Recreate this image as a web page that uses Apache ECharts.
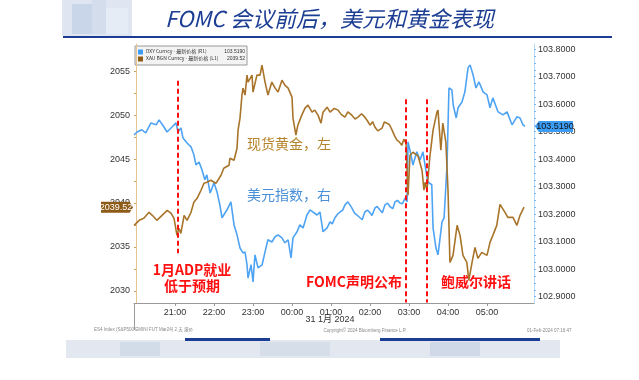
<!DOCTYPE html>
<html><head><meta charset="utf-8">
<script src="https://cdn.jsdelivr.net/npm/echarts@6/dist/echarts.min.js"></script>
<style>html,body{margin:0;padding:0;background:#fff}#c{width:639px;height:380px}</style>
</head><body><div id="c"></div>
<script>
// time in minutes since 20:00 (31 Jan 2024, Beijing)
const goldTime = [-3,5,12,20,25,32,40,48,54,58.5,63,66,69,74,78.5,84.6,89,94,100,104.6,109,115,123,130.8,135,143,144.6,150.8,155.4,157,160,163,164.6,167.7,170.8,172.3,178.5,180,186,190.8,193.8,198.5,203,209,214,218.5,224.6,229,234,240,241.5,246,249,255,260,264.6,270.8,275,280,284.6,287.7,294,298.5,301.5,305,310.8,316,321.5,326,332,337,341.5,347,352,356,360,364,367.7,372,378.5,382,386,390,394,398,401.5,405,409,412,415.4,418.5,421.5,426,434,440,443,444.6,447.7,452,457,463,464.6,469,472,476.7,480,483,487.7,494,498.5,503,509,512,517,521.5,526,532,540,544.6,549,555,560,567.7,572,580,586,590.8,597];
const goldValue = [2037.46,2038.03,2038.26,2038.94,2038.60,2038.03,2038.60,2039.17,2038.83,2038.26,2036.32,2037.12,2036.55,2038.60,2038.03,2038.94,2040.08,2040.53,2041.45,2042.24,2042.36,2042.58,2042.24,2043.15,2043.95,2044.29,2045.09,2044.86,2046.23,2048.28,2049.65,2052.27,2053.06,2052.27,2054.54,2053.75,2054.54,2052.61,2054.54,2054.54,2055.68,2053.75,2052.27,2053.75,2053.06,2052.61,2053.97,2053.41,2053.06,2052.04,2049.65,2047.71,2048.85,2049.99,2050.79,2051.13,2050.33,2050.56,2049.99,2049.08,2050.33,2050.90,2050.33,2050.22,2050.75,2050.56,2050.05,2049.76,2050.35,2049.99,2049.55,2049.76,2050.15,2049.76,2049.35,2048.85,2049.25,2048.62,2048.20,2048.51,2049.20,2049.08,2048.90,2048.28,2047.60,2047.14,2046.95,2046.57,2047.25,2046.80,2040.88,2045.43,2045.77,2045.32,2043.72,2041.45,2042.36,2041.45,2045.20,2048.28,2050.33,2050.56,2046.00,2049.08,2046.91,2041.45,2033.25,2034.04,2037.46,2036.32,2034.04,2033.25,2031.20,2033.25,2034.95,2033.70,2034.38,2034.04,2035.52,2036.32,2037.46,2039.85,2038.94,2038.37,2038.37,2037.46,2038.60,2039.52];
const dxyTime = [-3,1.5,9,15,23,31,35.4,43,47.7,55.4,61.5,64.6,69,72.3,78.5,84.6,89,92.3,97,101.5,106,109,114,120,124.6,129,132.3,140,146,150.8,155.4,160,164.6,167.7,170.8,172.3,177,180,183,187.7,194,198.5,203,209,214,218.5,224.6,229,234,238.5,241.5,247.7,252,257,263,267.7,272,278.5,283,287.7,294,298.5,302,306,310,314,318,321.5,326,332,336,340,344.6,348,352,356,360,363,367.7,371,375,379,383,387,391,395,398.5,402,406,410,414,417,418.5,423,426,432,437,441.5,444.6,449,455,457,461.5,464.6,470.8,474,478.5,481.5,486,488,492.6,495.5,501.5,506,510.8,514,518.5,523,527.7,534,540,544.6,549,557,564.6,570.8,578.5,586,590.8,595.4,598.5];
const dxyValue = [103.488,103.499,103.507,103.496,103.532,103.525,103.543,103.517,103.499,103.517,103.532,103.499,103.514,103.477,103.459,103.445,103.416,103.379,103.390,103.361,103.325,103.343,103.277,103.314,103.281,103.234,103.187,103.216,103.245,103.161,103.125,103.077,103.059,103.063,103.016,102.968,103.016,102.954,103.052,103.005,103.016,103.063,103.107,103.099,103.118,103.125,103.114,103.096,103.107,103.041,103.114,103.136,103.161,103.150,103.197,103.216,103.208,103.197,103.208,103.136,103.150,103.172,103.165,103.187,103.200,103.208,103.215,103.234,103.245,103.223,103.205,103.197,103.187,103.180,103.208,103.215,103.205,103.195,103.223,103.228,103.216,103.205,103.234,103.240,103.227,103.220,103.245,103.250,103.241,103.238,103.259,103.245,103.463,103.416,103.379,103.427,103.397,103.427,103.379,103.317,103.307,103.150,103.077,103.052,103.172,103.187,103.379,103.659,103.652,103.597,103.550,103.587,103.608,103.645,103.732,103.743,103.707,103.659,103.681,103.645,103.634,103.587,103.623,103.572,103.561,103.572,103.525,103.554,103.550,103.525,103.519];
const hourTicks = [60,120,180,240,300,360,420,480,540];
const goldTicks = [2030,2035,2040,2045,2050,2055];
const dxyTicks = [102.9,103.0,103.1,103.2,103.3,103.4,103.5,103.6,103.7,103.8];
const eventTimes = [64.6,415.4,447.7];
const eventTop = [2053.9,2051.8,2051.8];
const eventBottom = [2034.3,2028.7,2028.7];
const goldLast = 2039.52, dxyLast = 103.519;

const xMin = -3.1, xMax = 612.3;
const goldMin = 2028.63, goldMax = 2058.08;
const dxyMin = 102.877, dxyMax = 103.819;

const pair = (t, v) => t.map((x, i) => [x, v[i]]);
const fmtTime = m => { const h = (20 + Math.floor(m / 60)) % 24; const mm = Math.round(m % 60); return String(h).padStart(2,'0') + ':' + String(mm).padStart(2,'0'); };
const halfSteps = (a, step) => { const r=[]; for (let i=0;i<a.length;i++){ r.push(a[i]); if(i<a.length-1){ for(let k=1;k<step;k++) r.push(+(a[i]+(a[i+1]-a[i])*k/step).toFixed(4)); } } return r; };

const axisFont = {fontFamily:'Liberation Sans', fontSize:9, color:'#333'};
const chart = echarts.init(document.getElementById('c'), null, {renderer:'canvas'});
const RED = '#ff1010';
const CJK = "'Noto Sans CJK SC', sans-serif";

chart.setOption({
  backgroundColor:'#fff',
  animation:false,
  grid:{left:134, right:105, top:44, bottom:77, containLabel:false, outerBoundsMode:'none'},
  xAxis:{type:'value', min:xMin, max:xMax,
    axisLine:{lineStyle:{color:'#999', width:1}},
    axisTick:{customValues:hourTicks, length:3, lineStyle:{color:'#999'}},
    axisLabel:Object.assign({customValues:hourTicks, formatter:fmtTime, margin:5}, axisFont),
    splitLine:{show:false}},
  yAxis:[
    {type:'value', min:goldMin, max:goldMax, position:'left',
      axisLine:{show:true, lineStyle:{color:'#e8c48e', width:1}},
      axisTick:{show:true, customValues:halfSteps(goldTicks,2), length:2, lineStyle:{color:'#c9a060'}},
      axisLabel:Object.assign({customValues:goldTicks, margin:4, formatter:v=>String(Math.round(v))}, axisFont),
      splitLine:{show:false}},
    {type:'value', min:dxyMin, max:dxyMax, position:'right',
      axisLine:{show:true, lineStyle:{color:'#b6d8fb', width:1}},
      axisTick:{show:true, customValues:halfSteps(dxyTicks,4), length:2, lineStyle:{color:'#7ab8f5'}},
      axisLabel:Object.assign({customValues:dxyTicks, margin:4, formatter:v=>v.toFixed(4)}, axisFont),
      splitLine:{show:false}}
  ],
  series:[
    {name:'DXY Curncy', type:'line', yAxisIndex:1, data:pair(dxyTime,dxyValue), showSymbol:false,
      lineStyle:{color:'#4fa3f3', width:1.6}, itemStyle:{color:'#4fa3f3'}, z:2,
      markPoint:{silent:true, symbol:'path://M4,0 L40,0 L40,12 L4,12 L0,6 Z', symbolSize:[38,11], symbolOffset:[20,0],
        itemStyle:{color:'#3d9cf3'},
        label:{show:true, color:'#111', fontSize:9, fontFamily:'Liberation Sans', formatter:()=>dxyLast.toFixed(4), offset:[1,0]},
        data:[{coord:[xMax, dxyLast]}]}},
    {name:'XAU BGN Curncy', type:'line', yAxisIndex:0, data:pair(goldTime,goldValue), showSymbol:false,
      lineStyle:{color:'#a8742a', width:1.6}, itemStyle:{color:'#a8742a'}, z:3,
      markPoint:{silent:true, symbol:'path://M0,0 L34,0 L38,6 L34,12 L0,12 Z', symbolSize:[32,11], symbolOffset:[-17,0],
        itemStyle:{color:'#8e5b16'},
        label:{show:true, color:'#fff', fontSize:9, fontFamily:'Liberation Sans', formatter:()=>goldLast.toFixed(2), offset:[-1,0]},
        data:[{coord:[xMin, goldLast]}]},
      markLine:{silent:true, symbol:['none','none'], label:{show:false},
        lineStyle:{color:RED, width:2, type:[5,3]},
        data:eventTimes.map((t,i)=>[{coord:[t,eventTop[i]]},{coord:[t,eventBottom[i]]}])}}
  ],
  graphic:[
    // blurred logo
    {type:'rect', shape:{x:62,y:0,width:70,height:36}, style:{fill:'#dfe6f1'}},
    {type:'rect', shape:{x:72,y:4,width:20,height:30}, style:{fill:'#c9d5e8'}},
    {type:'rect', shape:{x:92,y:0,width:14,height:34}, style:{fill:'#d3ddec'}},
    {type:'rect', shape:{x:106,y:8,width:22,height:26}, style:{fill:'#e6ecf5'}},
    // title
    {type:'text', left:165, top:8, style:{text:'FOMC 会议前后，美元和黄金表现', fill:'#1b3d93', font:"italic 22px 'Noto Sans CJK SC', sans-serif"}},
    {type:'line', shape:{x1:63,y1:37,x2:612,y2:37}, style:{stroke:'#1b3d93', lineWidth:2}},
    // legend box
    {type:'rect', shape:{x:135,y:46,width:112,height:19}, style:{fill:'#f3f3f3', stroke:'#9a9a9a', lineWidth:1}},
    {type:'rect', shape:{x:138,y:49.5,width:5,height:5}, style:{fill:'#3d9cf3'}},
    {type:'rect', shape:{x:138,y:56.5,width:5,height:5}, style:{fill:'#8e5b16'}},
    {type:'text', x:146, y:49, style:{text:'DXY Curncy - 最新价格 (R1)', fill:'#333', font:"5px 'Noto Sans CJK SC', sans-serif"}},
    {type:'text', x:146, y:56, style:{text:'XAU BGN Curncy - 最新价格 (L1)', fill:'#333', font:"5px 'Noto Sans CJK SC', sans-serif"}},
    {type:'text', x:245, y:49, style:{text:'103.5190', fill:'#333', align:'right', font:"5px 'Liberation Sans'"}},
    {type:'text', x:245, y:56, style:{text:'2039.52', fill:'#333', align:'right', font:"5px 'Liberation Sans'"}},
    // series captions
    {type:'text', x:247, y:137, style:{text:'现货黄金，左', fill:'#b5842a', font:"14px "+CJK}},
    {type:'text', x:247, y:188, style:{text:'美元指数，右', fill:'#4a90d8', font:"14px "+CJK}},
    // event annotations
    {type:'text', x:192, y:262, style:{text:'1月ADP就业\n低于预期', fill:RED, align:'center', lineHeight:16, font:"bold 14px "+CJK}},
    {type:'text', x:354, y:275, style:{text:'FOMC声明公布', fill:RED, align:'center', font:"bold 14px "+CJK}},
    {type:'text', x:476, y:275, style:{text:'鲍威尔讲话', fill:RED, align:'center', font:"bold 14px "+CJK}},
    // date line and frame
    {type:'text', x:330, y:315, style:{text:'31 1月 2024', fill:'#333', align:'center', font:"9px 'Liberation Sans', 'Noto Sans CJK SC'"}},
    {type:'line', shape:{x1:134.5,y1:303,x2:134.5,y2:330}, style:{stroke:'#999', lineWidth:1}},
    // footer
    {type:'text', x:94, y:328, style:{text:'ES4 Index (S&P500 EMINI FUT Mar24) 2 天 滚价', fill:'#888', font:"4.5px 'Liberation Sans', 'Noto Sans CJK SC'"}},
    {type:'text', x:365, y:328, style:{text:'Copyright© 2024 Bloomberg Finance L.P.', fill:'#888', align:'center', font:"4.5px 'Liberation Sans'"}},
    {type:'text', x:527, y:328, style:{text:'01-Feb-2024 07:16:47', fill:'#888', font:"4.5px 'Liberation Sans'"}},
    // blurred bottom band
    {type:'rect', shape:{x:66,y:340,width:494,height:18}, style:{fill:'#e3e8f0'}},
    {type:'rect', shape:{x:185,y:338,width:85,height:3}, style:{fill:'#1b3d93'}},
    {type:'rect', shape:{x:380,y:338,width:160,height:3}, style:{fill:'#1b3d93'}},
    {type:'rect', shape:{x:120,y:342,width:40,height:14}, style:{fill:'#d2dbe8'}},
    {type:'rect', shape:{x:260,y:342,width:70,height:14}, style:{fill:'#d6deea'}},
    {type:'rect', shape:{x:430,y:342,width:50,height:14}, style:{fill:'#cfd9e7'}}
  ]
});
</script></body></html>
